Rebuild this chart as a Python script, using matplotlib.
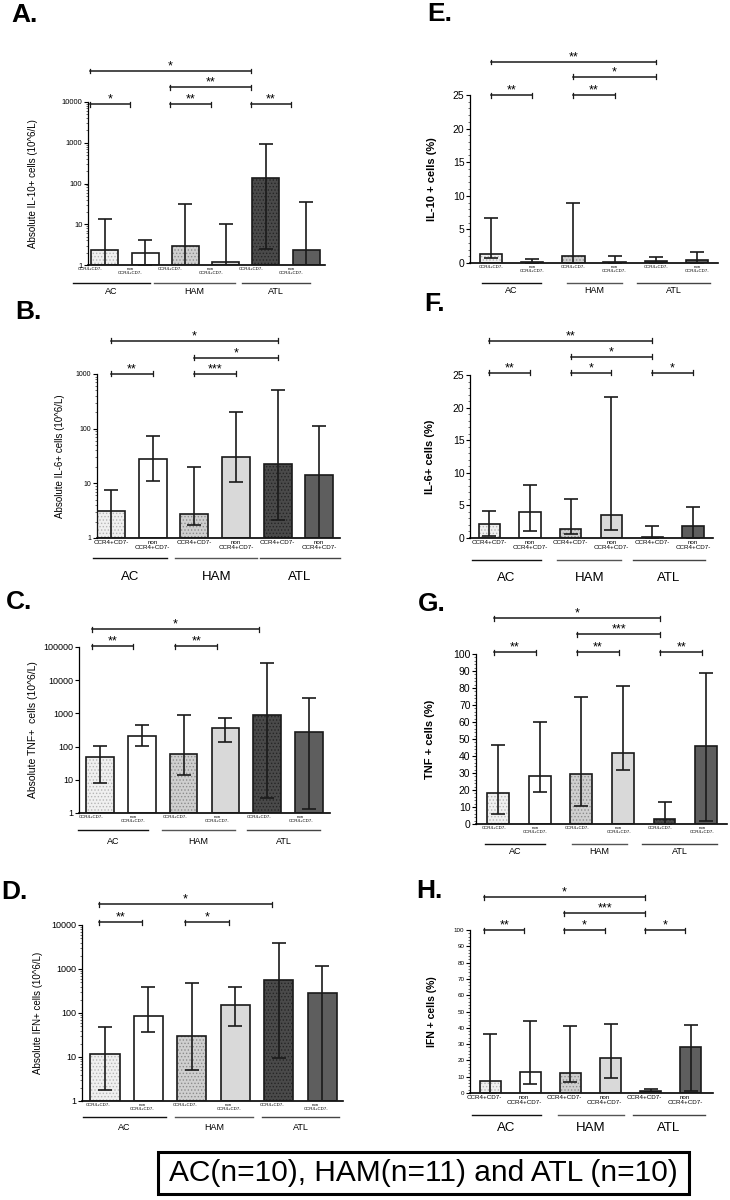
import numpy as np
import matplotlib
matplotlib.use("Agg")
import matplotlib.pyplot as plt
from matplotlib.patches import Rectangle
from matplotlib.ticker import FixedLocator, MultipleLocator, LogLocator, NullFormatter

plt.rcParams['font.family'] = ['Liberation Sans', 'DejaVu Sans']
plt.rcParams['hatch.linewidth'] = 0.6

W, H = 730, 1200

cells = ["CCR4+CD7-", "non\nCCR4+CD7-"] * 3
groups = ["AC", "HAM", "ATL"]

# A. absolute IL-10+ (10^6/L)
il10_abs = [2.4, 2.0, 2.9, 1.2, 140, 2.3]
il10_abs_hi = [13.5, 4.2, 32, 10, 950, 35]
il10_abs_lo = [0.5, 1.0, 0.5, 0.5, 2.5, 0.5]
# B. absolute IL-6+
il6_abs = [3.1, 28, 2.7, 30, 23, 14]
il6_abs_hi = [7.5, 72, 20, 200, 520, 110]
il6_abs_lo = [0.5, 11, 1.7, 10.5, 2.1, 0.5]
# C. absolute TNF+
tnf_abs = [47, 215, 58, 370, 880, 270]
tnf_abs_hi = [105, 460, 870, 720, 34000, 3000]
tnf_abs_lo = [8, 105, 14, 135, 2.9, 1.3]
# D. absolute IFN+
ifn_abs = [11.5, 85, 30, 150, 570, 280]
ifn_abs_hi = [47, 390, 480, 380, 3800, 1200]
ifn_abs_lo = [1.8, 37, 5, 50, 9.5, 0.5]
# E. IL-10 + cells (%)
il10_pct = [1.3, 0.2, 1.0, 0.1, 0.25, 0.5]
il10_pct_hi = [6.7, 0.6, 8.9, 1.1, 0.85, 1.6]
il10_pct_lo = [0.7, 0.0, 0.0, 0.0, 0.0, 0.0]
# F. IL-6+ cells (%)
il6_pct = [2.2, 4.0, 1.4, 3.6, 0.1, 1.9]
il6_pct_hi = [4.1, 8.1, 6.0, 21.6, 1.8, 4.8]
il6_pct_lo = [0.3, 1.1, 0.6, 1.3, 0.0, 0.0]
# G. TNF + cells (%)
tnf_pct = [18, 28.5, 29.5, 41.5, 3, 46]
tnf_pct_hi = [46.5, 60, 75, 81, 13, 89]
tnf_pct_lo = [6, 19, 10.5, 31.5, 0, 2]
# H. IFN + cells (%)
ifn_pct = [7.5, 13, 12, 21.5, 1.2, 28]
ifn_pct_hi = [36.5, 44, 41, 42.5, 2.5, 42]
ifn_pct_lo = [0, 5.5, 6.5, 9, 0.5, 1]

# significance brackets: (bar i, bar j, stars, level)
sig_A = [(0, 1, '*', 0), (2, 3, '**', 0), (4, 5, '**', 0), (2, 4, '**', 1), (0, 4, '*', 2)]
sig_B = [(0, 1, '**', 0), (2, 3, '***', 0), (2, 4, '*', 1), (0, 4, '*', 2)]
sig_C = [(0, 1, '**', 0), (2, 3, '**', 0), (0, 4, '*', 1)]
sig_D = [(0, 1, '**', 0), (2, 3, '*', 0), (0, 4, '*', 1)]
sig_E = [(0, 1, '**', 0), (2, 3, '**', 0), (2, 4, '*', 1), (0, 4, '**', 2)]
sig_F = [(0, 1, '**', 0), (2, 3, '*', 0), (4, 5, '*', 0), (2, 4, '*', 1), (0, 4, '**', 2)]
sig_G = [(0, 1, '**', 0), (2, 3, '**', 0), (4, 5, '**', 0), (2, 4, '***', 1), (0, 4, '*', 2)]
sig_H = [(0, 1, '**', 0), (2, 3, '*', 0), (4, 5, '*', 0), (2, 4, '***', 1), (0, 4, '*', 2)]

fills = ['#f0f0f0', 'white', '#cfcfcf', '#d9d9d9', '#4a4a4a', '#5e5e5e']
hatches = ['.....', None, '.....', None, '.....', None]
hatch_cols = ['#b5b5b5', 'white', '#8c8c8c', '#d9d9d9', '#262626', '#5e5e5e']
line_col = '#1a1a1a'
group_cols = ['#111111', '#555555', '#444444']

fig = plt.figure(figsize=(W / 100, H / 100), dpi=100)
fig.patch.set_facecolor('white')


def draw_panel(letter, letter_xy, box, xlim, vals, hi, lo, log, ylim, yticks,
               ylabel, ylab_x, ylab_size, ylab_bold, tick_size, bw, shift,
               sig, levels, spans, cat_size, group_size, line_px, grp_px):
    l, t, r, b = box
    wpx, hpx = r - l, b - t
    ax = fig.add_axes([l / W, 1 - b / H, wpx / W, hpx / H])
    x = np.arange(6)
    vals = np.array(vals, dtype=float)
    if log:
        ax.set_yscale('log')
        base = ylim[0]
    else:
        base = 0
    for i in range(6):
        ax.bar(x[i], vals[i] - base, bottom=base, width=bw, color=fills[i],
               hatch=hatches[i], edgecolor=hatch_cols[i], linewidth=0, zorder=2)
        ax.bar(x[i], vals[i] - base, bottom=base, width=bw, fill=False,
               edgecolor=line_col, linewidth=1.2, zorder=3)
    yerr = [vals - np.array(lo), np.array(hi) - vals]
    ax.errorbar(x, vals, yerr=yerr, fmt='none', ecolor=line_col, elinewidth=1.2,
                capsize=5, capthick=1.2, zorder=4)
    ax.set_xlim(*xlim)
    ax.set_ylim(*ylim)
    for s in ['top', 'right']:
        ax.spines[s].set_visible(False)
    ax.spines['left'].set_linewidth(0.9)
    ax.spines['bottom'].set_linewidth(1.2)
    ax.yaxis.set_major_locator(FixedLocator(yticks))
    ax.set_yticklabels([str(v) for v in yticks], fontsize=tick_size)
    if log:
        ax.yaxis.set_minor_locator(LogLocator(base=10, subs=np.arange(2, 10)))
    else:
        ax.yaxis.set_minor_locator(MultipleLocator(1 if ylim[1] <= 30 else 2))
    ax.yaxis.set_minor_formatter(NullFormatter())
    ax.tick_params(axis='y', which='major', length=3, width=0.8, pad=1)
    ax.tick_params(axis='y', which='minor', length=1.3, width=0.4)
    ax.set_xticks(x + shift)
    ax.set_xticklabels(cells, fontsize=cat_size, linespacing=0.95)
    ax.tick_params(axis='x', length=0, pad=1.5)

    ax.set_ylabel(ylabel, fontsize=ylab_size, fontweight='bold' if ylab_bold else 'normal')
    ax.yaxis.set_label_coords((ylab_x - l) / wpx, 0.5)

    trans = ax.get_xaxis_transform()
    for g, (s0, s1), c in zip(groups, spans, group_cols):
        ax.plot([s0, s1], [-line_px / hpx] * 2, transform=trans, clip_on=False,
                color=c, lw=1.0)
        ax.text((s0 + s1) / 2, -grp_px / hpx, g, transform=trans, ha='center',
                va='center', fontsize=group_size)

    for i, j, star, lev in sig:
        yb = 1 + levels[lev] / hpx
        x0, x1 = i + shift, j + shift
        ax.plot([x0, x1], [yb, yb], transform=trans, clip_on=False, color=line_col, lw=1.1)
        for xe in (x0, x1):
            ax.plot([xe, xe], [yb - 2.5 / hpx, yb + 2.5 / hpx], transform=trans,
                    clip_on=False, color=line_col, lw=0.9)
        ax.text((x0 + x1) / 2, yb - 1.0 / hpx, star, transform=trans, ha='center',
                va='bottom', fontsize=9)

    fig.text(letter_xy[0] / W, 1 - letter_xy[1] / H, letter, fontsize=19,
             fontweight='bold', va='top', ha='left')
    return ax


log_ticks = [1, 10, 100, 1000, 10000, 100000]

draw_panel('A.', (11, 3), (88, 102, 325, 265), (-0.42, 5.47),
           il10_abs, il10_abs_hi, il10_abs_lo, True, (1, 10000), log_ticks[:5],
           'Absolute IL-10+ cells (10^6/L)', 38, 7, False, 5.5, 0.67, -0.37,
           sig_A, [-2, 15, 31], [(-0.8, 1.12), (1.22, 3.23), (3.4, 5.1)], 3.2, 6.5, 18, 27)

draw_panel('B.', (15, 300), (97, 374, 340, 538), (-0.34, 5.5),
           il6_abs, il6_abs_hi, il6_abs_lo, True, (1, 1000), log_ticks[:4],
           'Absolute IL-6+ cells (10^6/L)', 65, 7, False, 5, 0.67, 0.0,
           sig_B, [0, 16, 33], [(-0.43, 1.35), (1.54, 3.51), (3.58, 5.5)], 4.5, 9.5, 20, 39)

draw_panel('C.', (6, 590), (79, 647, 330, 813), (-0.5, 5.5),
           tnf_abs, tnf_abs_hi, tnf_abs_lo, True, (1, 100000), log_ticks,
           'Absolute TNF+  cells (10^6/L)', 38, 7.5, False, 6.5, 0.66, -0.2,
           sig_C, [1, 18], [(-0.53, 1.15), (1.48, 3.23), (3.52, 5.26)], 3.2, 6.5, 17, 28)

draw_panel('D.', (1, 880), (82, 925, 343, 1101), (-0.53, 5.48),
           ifn_abs, ifn_abs_hi, ifn_abs_lo, True, (1, 10000), log_ticks[:5],
           'Absolute IFN+ cells (10^6/L)', 43, 7, False, 6.5, 0.67, -0.15,
           sig_D, [3, 21], [(-0.5, 1.4), (1.61, 3.41), (3.62, 5.39)], 3.2, 6.5, 16, 27)

draw_panel('E.', (427, 2), (470, 95, 718, 263), (-0.51, 5.51),
           il10_pct, il10_pct_hi, il10_pct_lo, False, (0, 25), [0, 5, 10, 15, 20, 25],
           'IL-10 + cells (%)', 437, 8, True, 7.5, 0.54, 0.0,
           sig_E, [0, 18, 33], [(-0.22, 1.21), (1.84, 3.18), (3.54, 5.32)], 3.2, 6.5, 20, 27)

draw_panel('F.', (424, 292), (470, 375, 713, 538), (-0.47, 5.49),
           il6_pct, il6_pct_hi, il6_pct_lo, False, (0, 25), [0, 5, 10, 15, 20, 25],
           'IL-6+ cells (%)', 435, 8, True, 7.5, 0.52, 0.0,
           sig_F, [2, 18, 34], [(-0.42, 1.27), (1.67, 3.24), (3.53, 5.29)], 4.5, 9.5, 22, 40)

draw_panel('G.', (418, 592), (476, 654, 727, 824), (-0.53, 5.5),
           tnf_pct, tnf_pct_hi, tnf_pct_lo, False, (0, 100), list(range(0, 101, 10)),
           'TNF + cells (%)', 435, 8, True, 7.5, 0.52, -0.1,
           sig_G, [2, 20, 36], [(-0.31, 1.13), (1.78, 3.1), (3.46, 5.26)], 3.2, 6.5, 20, 28)

draw_panel('H.', (416, 879), (470, 930, 713, 1093), (-0.5, 5.55),
           ifn_pct, ifn_pct_hi, ifn_pct_lo, False, (0, 100), list(range(0, 101, 10)),
           'IFN + cells (%)', 437, 7.5, True, 4.5, 0.52, -0.15,
           sig_H, [0, 17, 33], [(-0.45, 1.27), (1.69, 3.33), (3.56, 5.35)], 4.5, 9.5, 22, 35)

# sample size box
fig.add_artist(Rectangle((158 / W, 1 - 1194 / H), (689 - 158) / W, (1194 - 1152) / H,
                         transform=fig.transFigure, fill=False, lw=2.2, edgecolor='black'))
fig.text((158 + 689) / 2 / W, 1 - 1173 / H, 'AC(n=10), HAM(n=11) and ATL (n=10)',
         fontsize=21.5, ha='center', va='center')

fig.savefig('out.png', dpi=100, facecolor='white')
